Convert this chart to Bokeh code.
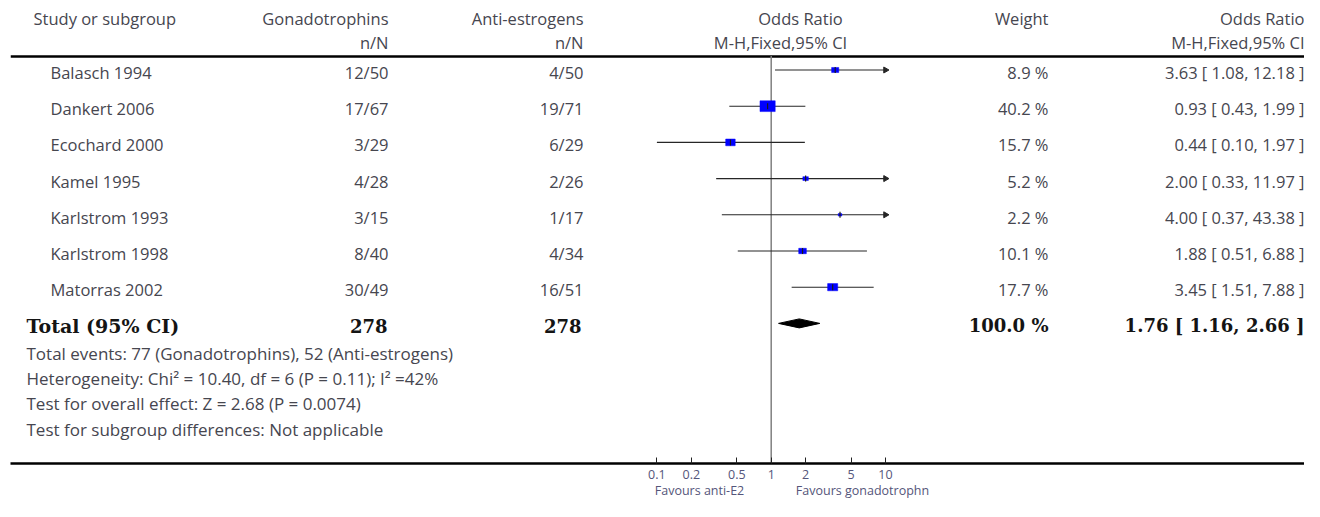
import numpy as np
from bokeh.plotting import figure
from bokeh.models import Range1d, LogScale, LogAxis, FixedTicker, CustomJSTickFormatter
from bokeh.core.properties import value
from bokeh.embed import file_html
from bokeh.resources import INLINE

# ---------------- data ----------------
studies = ["Balasch 1994", "Dankert 2006", "Ecochard 2000", "Kamel 1995",
           "Karlstrom 1993", "Karlstrom 1998", "Matorras 2002"]
gon_events = [12, 17, 3, 4, 3, 8, 30]
gon_total = [50, 67, 29, 28, 15, 40, 49]
anti_events = [4, 19, 6, 2, 1, 4, 16]
anti_total = [50, 71, 29, 26, 17, 34, 51]
weights = [8.9, 40.2, 15.7, 5.2, 2.2, 10.1, 17.7]
or_est = [3.63, 0.93, 0.44, 2.00, 4.00, 1.88, 3.45]
or_lo = [1.08, 0.43, 0.10, 0.33, 0.37, 0.51, 1.51]
or_hi = [12.18, 1.99, 1.97, 11.97, 43.38, 6.88, 7.88]
total_or = 1.76
total_lo = 1.16
total_hi = 2.66
axis_ticks = [0.1, 0.2, 0.5, 1, 2, 5, 10]
favours_left = "Favours anti-E2"
favours_right = "Favours gonadotrophn"
footer_lines = [
    "Total events: 77 (Gonadotrophins), 52 (Anti-estrogens)",
    "Heterogeneity: Chi\u00b2 = 10.40, df = 6 (P = 0.11); I\u00b2 =42%",
    "Test for overall effect: Z = 2.68 (P = 0.0074)",
    "Test for subgroup differences: Not applicable",
]

# ---------------- layout constants ----------------
W, H = 1304, 501
LEFT = 10                # frame left edge
FH = 463                 # frame height (axis line position)
BOTTOM = H - FH
X_ONE = 770.7            # x of OR = 1
DECADE = 114.3           # px per decade
OR_MIN, OR_MAX = 0.1, 10.0
ROW0, STEP = 69.5, 36.2
TDY = 2.5
H1, H2 = 18, 42
RULE_Y = 55.5
FOOT_Y0, FOOT_STEP = 352.5, 25.4
FAV_LEFT_CX, FAV_RIGHT_CX = 699, 862   # pixel centres of the two "Favours" captions

SANS = value("Open Sans")
SERIF = value("DejaVu Serif")
TXT = "#46464f"
BOLD = "#141414"
TICK = "#55557a"
FS = "16.5px"

p = figure(width=W, height=H, output_backend="svg", toolbar_location=None,
           x_range=Range1d(LEFT, W), y_range=Range1d(FH, 0),
           x_axis_location=None, y_axis_location=None,
           min_border_left=LEFT, min_border_right=0, min_border_top=0,
           min_border_bottom=BOTTOM)
p.extra_x_ranges = {"or": Range1d(start=10 ** ((LEFT - X_ONE) / DECADE),
                                  end=10 ** ((W - X_ONE) / DECADE))}
p.extra_x_scales = {"or": LogScale()}
p.outline_line_color = None
p.grid.visible = False
p.background_fill_color = "white"
p.border_fill_color = "white"

n = len(studies)
row_y = [ROW0 + STEP * i for i in range(n)]
total_y = ROW0 + STEP * n
txt_y = [y + TDY for y in row_y]

def txt(x, y, t, align, font=SANS, size=FS, color=TXT, style="normal"):
    p.text(x=x, y=y, text=t, text_align=align, text_baseline="middle",
           text_font=font, text_font_size=size, text_color=color,
           text_font_style=style)

# header
txt([33], [H1], ["Study or subgroup"], "left")
txt([388, 583], [H1, H1], ["Gonadotrophins", "Anti-estrogens"], "right")
txt([388, 583], [H2, H2], ["n/N", "n/N"], "right")
txt([800], [H1], ["Odds Ratio"], "center")
txt([780], [H2], ["M-H,Fixed,95% CI"], "center")
txt([1048], [H1], ["Weight"], "right")
txt([1304, 1304], [H1, H2], ["Odds Ratio", "M-H,Fixed,95% CI"], "right")
p.hspan(y=[RULE_Y], line_color="black", line_width=2.5)

# study rows
txt([50] * n, txt_y, studies, "left")
txt([388] * n, txt_y, [f"{a}/{b}" for a, b in zip(gon_events, gon_total)], "right")
txt([583] * n, txt_y, [f"{a}/{b}" for a, b in zip(anti_events, anti_total)], "right")
txt([1048] * n, txt_y, [f"{w:.1f} %" for w in weights], "right")
txt([1304] * n, txt_y, [f"{o:.2f} [ {l:.2f}, {h:.2f} ]" for o, l, h in zip(or_est, or_lo, or_hi)], "right")

# total row
ty = total_y + TDY
txt([26], [ty], ["Total (95% CI)"], "left", font=SERIF, size="19px", color=BOLD, style="bold")
txt([387, 581], [ty, ty], [str(sum(gon_total)), str(sum(anti_total))], "right",
    font=SERIF, size="18px", color=BOLD, style="bold")
txt([1048], [ty], [f"{sum(weights):.1f} %"], "right", font=SERIF, size="18px", color=BOLD, style="bold")
txt([1304], [ty], [f"{total_or:.2f} [ {total_lo:.2f}, {total_hi:.2f} ]"], "right",
    font=SERIF, size="18px", color=BOLD, style="bold")

# footer
txt([26] * len(footer_lines), [FOOT_Y0 + FOOT_STEP * i for i in range(len(footer_lines))],
    footer_lines, "left", size="17px")

# forest plot
p.segment(x0=[1], x1=[1], y0=[RULE_Y], y1=[FH], x_range_name="or",
          line_color="#808080", line_width=1.5)
lo_c = np.clip(or_lo, OR_MIN, OR_MAX)
hi_c = np.clip(or_hi, OR_MIN, OR_MAX)
p.segment(x0=lo_c, x1=hi_c, y0=row_y, y1=row_y, x_range_name="or",
          line_color="#262626", line_width=1.1)
sq_w = [2.4 * np.sqrt(w) for w in weights]
sq_h = [1.7 * np.sqrt(w) for w in weights]
p.rect(x=or_est, y=row_y, width=sq_w, height=sq_h, width_units="screen",
       height_units="screen", x_range_name="or", fill_color="#0000ff",
       line_color="#0000ff", line_width=0.5)
p.segment(x0=or_est, x1=or_est, y0=[y - 3 for y in row_y], y1=[y + 3 for y in row_y],
          x_range_name="or", line_color="#1a1a1a", line_width=1.2)
arrow_y = [y for y, h in zip(row_y, or_hi) if h > OR_MAX]
p.scatter(x=[OR_MAX] * len(arrow_y), y=arrow_y, marker="triangle", size=6,
          angle=-np.pi / 2, x_range_name="or", fill_color="#262626", line_color="#262626")
p.patch(x=[total_lo, total_or, total_hi, total_or],
        y=[total_y, total_y - 4.5, total_y, total_y + 4.5],
        x_range_name="or", fill_color="black", line_color="black")

# main odds-ratio axis
ax = LogAxis(x_range_name="or", ticker=FixedTicker(ticks=axis_ticks, minor_ticks=[]),
             formatter=CustomJSTickFormatter(code="return tick.toString();"))
ax.axis_line_width = 2.5
ax.axis_line_color = "black"
ax.major_tick_in = 6
ax.major_tick_out = 0
ax.major_tick_line_color = "#222222"
ax.minor_tick_line_color = None
ax.major_label_text_font = "Open Sans"
ax.major_label_text_font_size = "12.5px"
ax.major_label_text_color = TICK
ax.major_label_standoff = 6
p.add_layout(ax, "below")

# second, line-less axis carrying the "Favours" captions
fav_ticks = [10 ** ((FAV_LEFT_CX - X_ONE) / DECADE), 10 ** ((FAV_RIGHT_CX - X_ONE) / DECADE)]
ax2 = LogAxis(x_range_name="or", ticker=FixedTicker(ticks=fav_ticks, minor_ticks=[]),
              formatter=CustomJSTickFormatter(args=dict(left=favours_left, right=favours_right),
                                              code="return tick < 1 ? left : right;"))
ax2.axis_line_color = None
ax2.major_tick_line_color = None
ax2.minor_tick_line_color = None
ax2.major_tick_in = 0
ax2.major_tick_out = 0
ax2.major_label_text_font = "Open Sans"
ax2.major_label_text_font_size = "12.5px"
ax2.major_label_text_color = TICK
ax2.major_label_standoff = 0
p.add_layout(ax2, "below")

open("out.html", "w").write(file_html(p, INLINE))
